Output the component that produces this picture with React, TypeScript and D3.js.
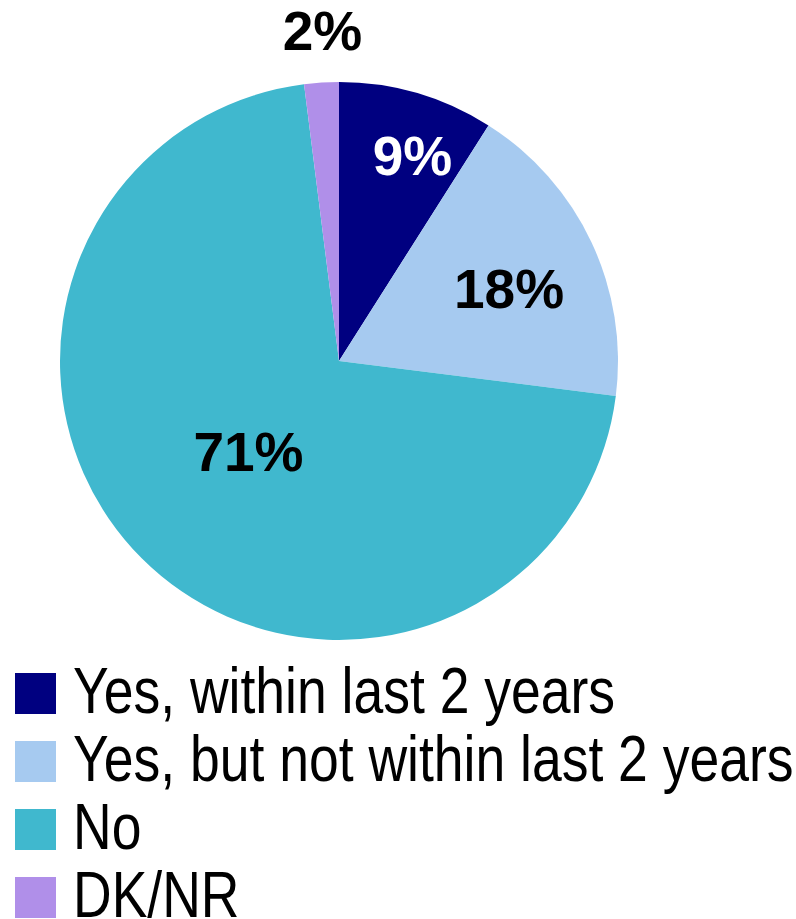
import React from "react";
import * as d3 from "d3";

const categories = [
  "Yes, within last 2 years",
  "Yes, but not within last 2 years",
  "No",
  "DK/NR",
];
const values = [9, 18, 71, 2];
const valueLabels = ["9%", "18%", "71%", "2%"];

const colors = ["#000080", "#A6CAF0", "#40B8CE", "#B08FE9"];
const labelColors = ["#FFFFFF", "#000000", "#000000", "#000000"];
const labelRadiusFactor = [0.784, 0.663, 0.459, 1.188];
const labelAngleShiftDeg = [3.4, 2.0, 0, 0.75];

const W = 796;
const H = 919;
const cx = 339;
const cy = 361;
const R = 279;

export default function App() {
  const pie = d3
    .pie<number>()
    .sort(null)
    .value((d) => d)
    .startAngle(0)
    .endAngle(2 * Math.PI);
  const arcs = pie(values);
  const arcGen = d3.arc<d3.PieArcDatum<number>>().innerRadius(0).outerRadius(R);

  const legendY = d3
    .scaleBand<number>()
    .domain(d3.range(categories.length))
    .range([672, 944])
    .paddingInner(0);

  return (
    <svg
      width={W}
      height={H}
      style={{ position: "absolute", left: 0, top: 0, background: "#fff" }}
      fontFamily="'Liberation Sans', Arial, sans-serif"
    >
      <g transform={`translate(${cx},${cy})`}>
        {arcs.map((a, i) => (
          <path key={i} d={arcGen(a) || ""} fill={colors[i]} />
        ))}
        {arcs.map((a, i) => {
          const mid = (a.startAngle + a.endAngle) / 2 + (labelAngleShiftDeg[i] * Math.PI) / 180;
          const r = R * labelRadiusFactor[i];
          const x = Math.sin(mid) * r;
          const y = -Math.cos(mid) * r;
          return (
            <text
              key={i}
              x={x}
              y={y}
              dy="0.36em"
              textAnchor="middle"
              fontWeight="bold"
              fontSize={55}
              fill={labelColors[i]}
            >
              {valueLabels[i]}
            </text>
          );
        })}
      </g>
      <g>
        {categories.map((c, i) => {
          const y0 = legendY(i) as number;
          return (
            <g key={i}>
              <rect x={15} y={y0 + 1} width={41} height={41} fill={colors[i]} />
              <text
                transform={`translate(73,${y0 + 40.5}) scale(0.836,1)`}
                fontSize={64}
                fill="#000"
              >
                {c}
              </text>
            </g>
          );
        })}
      </g>
    </svg>
  );
}
